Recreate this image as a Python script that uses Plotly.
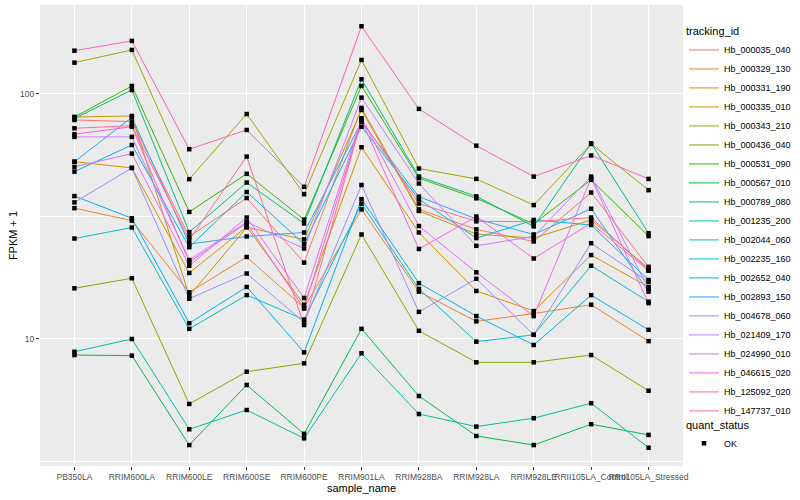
import plotly.graph_objects as go

sample_names = ["PB350LA", "RRIM600LA", "RRIM600LE", "RRIM600SE", "RRIM600PE", "RRIM901LA",
                "RRIM928BA", "RRIM928LA", "RRIM928LE", "RRII105LA_Control", "RRII105LA_Stressed"]

tracking_ids = ["Hb_000035_040", "Hb_000329_130", "Hb_000331_190", "Hb_000335_010", "Hb_000343_210",
                "Hb_000436_040", "Hb_000531_090", "Hb_000567_010", "Hb_000789_080", "Hb_001235_200",
                "Hb_002044_060", "Hb_002235_160", "Hb_002652_040", "Hb_002893_150", "Hb_004678_060",
                "Hb_021409_170", "Hb_024990_010", "Hb_046615_020", "Hb_125092_020", "Hb_147737_010"]

# FPKM + 1 values, one list per tracking_id (order = sample_names)
hb_000035_040 = [78.3, 77.1, 26.2, 37.6, 20.5, 87.7, 33.8, 28.0, 25.0, 39.6, 19.7]
hb_000329_130 = [34.2, 30.4, 15.5, 21.6, 13.4, 33.8, 15.6, 11.8, 12.7, 13.8, 9.8]
hb_000331_190 = [52.9, 49.9, 18.6, 28.7, 13.8, 60.6, 27.2, 15.7, 13.0, 22.0, 16.3]
hb_000335_010 = [80.5, 81.3, 15.0, 28.5, 25.5, 86.0, 33.3, 26.8, 25.8, 30.6, 19.4]
hb_000343_210 = [134.2, 151.2, 44.9, 82.8, 39.0, 137.6, 49.6, 45.0, 35.2, 62.5, 40.5]
hb_000436_040 = [16.1, 17.7, 5.43, 7.35, 7.96, 26.7, 10.8, 8.03, 8.03, 8.60, 6.15]
hb_000531_090 = [80.5, 107.8, 33.0, 47.2, 30.7, 107.8, 45.3, 37.5, 29.5, 44.6, 26.3]
hb_000567_010 = [8.60, 8.55, 3.69, 6.49, 4.10, 11.0, 5.85, 4.02, 3.69, 4.49, 4.06]
hb_000789_080 = [79.4, 103.8, 27.3, 43.5, 29.6, 114.8, 46.0, 38.2, 28.8, 62.9, 27.0]
hb_001235_200 = [8.87, 10.0, 4.28, 5.13, 3.93, 8.74, 4.94, 4.39, 4.75, 5.47, 3.60]
hb_002044_060 = [25.7, 28.5, 11.0, 15.1, 12.0, 35.6, 16.0, 9.75, 10.4, 19.9, 14.2]
hb_002235_160 = [48.2, 61.9, 23.7, 39.8, 24.4, 73.5, 37.2, 25.8, 30.6, 29.2, 17.4]
hb_002652_040 = [38.3, 31.1, 11.6, 16.3, 8.82, 37.2, 16.9, 12.4, 9.45, 15.1, 10.9]
hb_002893_150 = [52.9, 80.3, 24.4, 26.2, 27.2, 76.9, 38.1, 30.9, 26.7, 34.0, 15.6]
hb_004678_060 = [36.1, 49.9, 14.6, 18.5, 11.7, 42.5, 12.9, 17.6, 10.4, 24.6, 17.1]
hb_021409_170 = [66.8, 66.8, 21.0, 30.0, 23.4, 96.6, 43.1, 24.0, 26.2, 46.0, 16.0]
hb_024990_010 = [50.4, 57.1, 19.9, 31.3, 14.7, 79.6, 28.9, 18.7, 12.4, 45.3, 14.0]
hb_046615_020 = [68.5, 73.5, 20.6, 29.7, 13.3, 78.1, 23.3, 31.6, 21.3, 29.7, 19.0]
hb_125092_020 = [150.2, 164.6, 59.5, 71.3, 41.8, 188.9, 86.9, 61.5, 46.0, 56.1, 45.0]
hb_147737_010 = [72.4, 74.2, 25.4, 55.5, 11.4, 78.3, 35.7, 30.2, 30.1, 31.3, 19.1]

series_values = [hb_000035_040, hb_000329_130, hb_000331_190, hb_000335_010, hb_000343_210,
                 hb_000436_040, hb_000531_090, hb_000567_010, hb_000789_080, hb_001235_200,
                 hb_002044_060, hb_002235_160, hb_002652_040, hb_002893_150, hb_004678_060,
                 hb_021409_170, hb_024990_010, hb_046615_020, hb_125092_020, hb_147737_010]

hue_colors = ["#F8766D", "#EA8331", "#D89000", "#C09B00", "#A3A500", "#7CAE00", "#39B600",
              "#00BB4E", "#00BF7D", "#00C1A3", "#00BFC4", "#00BAE0", "#00B0F6", "#35A2FF",
              "#9590FF", "#C77CFF", "#E76BF3", "#FA62DB", "#FF62BC", "#FF6C90"]

y_ticks = [10, 100]
y_tick_labels = ["10", "100"]

FONT = "Liberation Sans"

fig = go.Figure()
for name, vals, col in zip(tracking_ids, series_values, hue_colors):
    fig.add_trace(go.Scatter(x=sample_names, y=vals, mode="lines", name=name,
                             line=dict(color=col, width=1), legend="legend"))

all_x = [s for _ in series_values for s in sample_names]
all_y = [v for vals in series_values for v in vals]
fig.add_trace(go.Scatter(x=all_x, y=all_y, mode="markers", name="OK",
                         marker=dict(symbol="square", size=4.5, color="black"),
                         legend="legend2"))

fig.update_layout(
    width=800, height=500,
    margin=dict(l=40, r=116, t=5, b=34),
    paper_bgcolor="white", plot_bgcolor="#EBEBEB",
    font=dict(family=FONT, color="black", size=11),
    xaxis=dict(type="category", range=[-0.6, 10.6], showgrid=True, gridcolor="white",
               gridwidth=1.1, ticks="outside", ticklen=3, tickcolor="#333333",
               tickangle=0, automargin=False,
               tickfont=dict(size=8.5, color="#4D4D4D"), zeroline=False,
               title=dict(text="sample_name", font=dict(size=11), standoff=2)),
    yaxis=dict(type="log", range=[0.4816, 2.363], tickvals=y_ticks, ticktext=y_tick_labels,
               showgrid=True, gridcolor="white", gridwidth=1.1, ticks="outside", ticklen=3,
               tickcolor="#333333", tickfont=dict(size=8.5, color="#4D4D4D"), zeroline=False,
               automargin=False,
               minor=dict(tickvals=[3.162, 31.62], showgrid=True, gridcolor="white",
                          gridwidth=0.5, ticklen=0),
               title=dict(text="FPKM + 1", font=dict(size=11), standoff=0)),
    legend=dict(title=dict(text="tracking_id", font=dict(size=11)), x=1.0, xanchor="left",
                y=0.965, yanchor="top", font=dict(size=9), bgcolor="rgba(0,0,0,0)",
                tracegroupgap=0, itemwidth=30),
    legend2=dict(title=dict(text="quant_status", font=dict(size=11)), x=1.0, xanchor="left",
                 y=0.112, yanchor="top", font=dict(size=9), bgcolor="rgba(0,0,0,0)",
                 itemwidth=30),
)

fig.write_html("out.html", config={"displayModeBar": False},
               post_script="document.body.style.margin='0px';")
